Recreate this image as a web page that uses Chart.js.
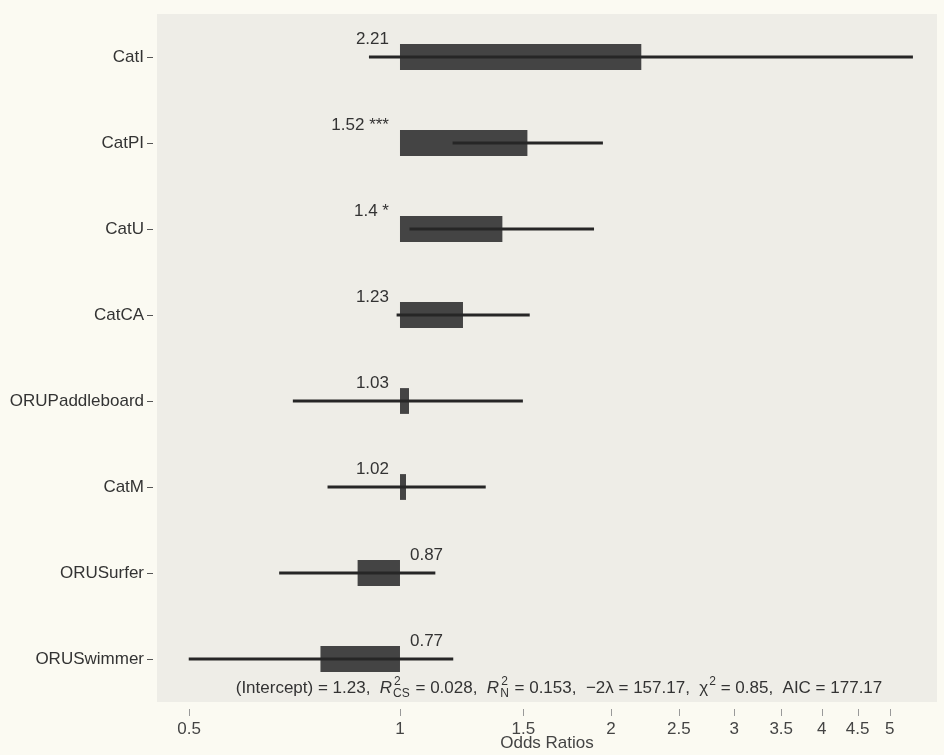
<!DOCTYPE html>
<html><head><meta charset="utf-8">
<script src="https://cdn.jsdelivr.net/npm/chart.js@4.4.1/dist/chart.umd.min.js"></script>
<style>html,body{margin:0;padding:0;background:#FBFAF2;} #wrap{width:944px;height:755px;}</style>
</head><body><div id="wrap"><canvas id="c" width="944" height="755"></canvas></div>
<script>
const categories = ['CatI', 'CatPI', 'CatU', 'CatCA', 'ORUPaddleboard', 'CatM', 'ORUSurfer', 'ORUSwimmer'];
const oddsRatios = [2.21, 1.52, 1.40, 1.23, 1.03, 1.02, 0.87, 0.77];
const ciLower = [0.904, 1.19, 1.033, 0.99, 0.704, 0.789, 0.673, 0.50];
const ciUpper = [5.39, 1.946, 1.89, 1.53, 1.496, 1.324, 1.122, 1.19];
const significance = ['', '***', '*', '', '', '', '', ''];
const xTickValues = [0.5, 1, 1.5, 2, 2.5, 3, 3.5, 4, 4.5, 5];
const axisTitle = 'Odds Ratios';
// model summary: [text, kind] kind: n=normal, i=italic, s=sup/sub pair
const statsSegments = [
  ['(Intercept) = 1.23,  ', 'n'], ['R', 'i'], ['2|CS', 's'], [' = 0.028,  ', 'n'],
  ['R', 'i'], ['2|N', 's'], [' = 0.153,  \u22122\u03bb = 157.17,  \u03c7', 'n'], ['2|', 's'],
  [' = 0.85,  AIC = 177.17', 'n']
];

const FONT = '"Liberation Sans", Arial, sans-serif';
Chart.defaults.font.family = FONT;

const decor = {
  id: 'decor',
  beforeDraw(chart) {
    const {ctx, chartArea: a} = chart;
    ctx.save();
    ctx.fillStyle = '#FBFAF2';
    ctx.fillRect(0, 0, chart.width, chart.height);
    ctx.fillStyle = '#EEEDE7';
    ctx.fillRect(a.left, a.top, a.right - a.left, a.bottom - a.top);
    ctx.restore();
  },
  afterDraw(chart) {
    const {ctx, chartArea: a} = chart;
    const xs = chart.scales.x, ys = chart.scales.y;
    ctx.save();
    // y tick marks
    ctx.strokeStyle = '#555'; ctx.lineWidth = 1;
    categories.forEach((c, i) => {
      const y = Math.round(ys.getPixelForValue(i)) + 0.5;
      ctx.beginPath(); ctx.moveTo(a.left - 10, y); ctx.lineTo(a.left - 4, y); ctx.stroke();
    });
    // x tick marks
    ctx.strokeStyle = '#999';
    xTickValues.forEach(v => {
      const x = Math.round(xs.getPixelForValue(v)) + 0.5;
      ctx.beginPath(); ctx.moveTo(x, a.bottom + 7); ctx.lineTo(x, a.bottom + 14); ctx.stroke();
    });
    // value labels
    ctx.fillStyle = '#333';
    ctx.font = '17px ' + FONT;
    ctx.textBaseline = 'middle';
    const x1 = xs.getPixelForValue(1);
    oddsRatios.forEach((v, i) => {
      const y = ys.getPixelForValue(i) - 18;
      const txt = String(v) + (significance[i] ? ' ' + significance[i] : '');
      if (v >= 1) { ctx.textAlign = 'right'; ctx.fillText(txt, x1 - 11, y); }
      else { ctx.textAlign = 'left'; ctx.fillText(txt, x1 + 10, y); }
    });
    // stats line
    const base = a.bottom - 9;
    const fN = '17px ' + FONT, fI = 'italic 17px ' + FONT, fS = '12px ' + FONT;
    const widthOf = seg => {
      if (seg[1] === 'n') { ctx.font = fN; return ctx.measureText(seg[0]).width; }
      if (seg[1] === 'i') { ctx.font = fI; return ctx.measureText(seg[0]).width + 1; }
      const [sp, sb] = seg[0].split('|'); ctx.font = fS;
      return Math.max(ctx.measureText(sp).width, ctx.measureText(sb).width) + 1;
    };
    const total = statsSegments.reduce((s, g) => s + widthOf(g), 0);
    let x = 559 - total / 2;
    ctx.textAlign = 'left'; ctx.textBaseline = 'alphabetic';
    statsSegments.forEach(seg => {
      const w = widthOf(seg);
      if (seg[1] === 'n') { ctx.font = fN; ctx.fillText(seg[0], x, base); }
      else if (seg[1] === 'i') { ctx.font = fI; ctx.fillText(seg[0], x, base); }
      else {
        const [sp, sb] = seg[0].split('|'); ctx.font = fS;
        ctx.fillText(sp, x + 1, base - 8);
        if (sb) ctx.fillText(sb, x, base + 4);
      }
      x += w;
    });
    ctx.restore();
  }
};

new Chart(document.getElementById('c'), {
  type: 'bar',
  data: {
    labels: categories,
    datasets: [
      {
        label: 'CI',
        data: categories.map((c, i) => [ciLower[i], ciUpper[i]]),
        backgroundColor: '#262626',
        barThickness: 2.5,
        grouped: false,
        order: 0
      },
      {
        label: 'Odds ratio',
        data: oddsRatios.map(v => v >= 1 ? [1, v] : [v, 1]),
        backgroundColor: '#444444',
        barPercentage: 0.3,
        categoryPercentage: 1,
        grouped: false,
        order: 1
      }
    ]
  },
  options: {
    indexAxis: 'y',
    responsive: false,
    animation: false,
    layout: {padding: {left: 0, right: 7, top: 14, bottom: 0}},
    plugins: {legend: {display: false}, tooltip: {enabled: false}},
    scales: {
      x: {
        type: 'logarithmic',
        min: 0.45, max: 5.84,
        bounds: 'data',
        afterBuildTicks: s => { s.ticks = xTickValues.map(v => ({value: v})); },
        afterFit: s => { s.height = 53; s.paddingLeft = 0; s.paddingRight = 0; },
        grid: {display: false, drawTicks: false},
        border: {display: false},
        ticks: {
          autoSkip: false, maxRotation: 0, padding: 17,
          color: '#444', font: {size: 17},
          callback: v => String(v)
        },
        title: {display: true, text: axisTitle, color: '#444', font: {size: 17}, padding: {top: 0, bottom: 1}}
      },
      y: {
        type: 'category',
        offset: true,
        afterFit: s => { s.width = 157; s.paddingTop = 0; s.paddingBottom = 0; },
        grid: {display: false, drawTicks: false, offset: false},
        border: {display: false},
        ticks: {padding: 13, color: '#333', font: {size: 17}}
      }
    }
  },
  plugins: [decor]
});
</script></body></html>
